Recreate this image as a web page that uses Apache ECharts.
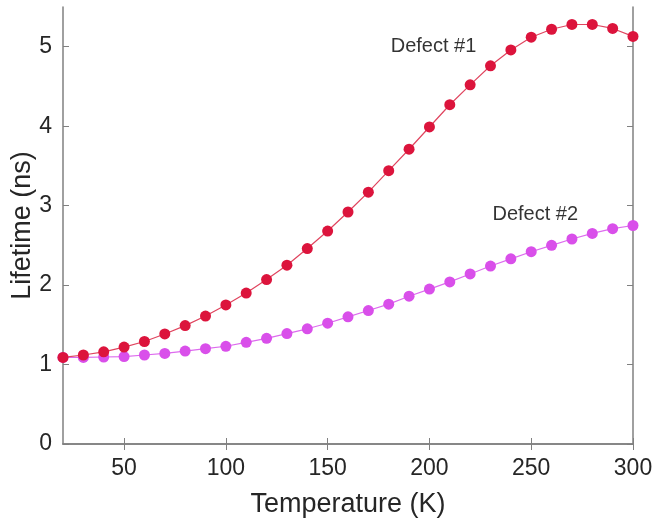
<!DOCTYPE html>
<html>
    <head>
        <meta charset="UTF-8" />
        <title>Lifetime vs Temperature</title>
        <script type="text/javascript" src="https://cdn.jsdelivr.net/npm/echarts@6/dist/echarts.min.js"></script>
    </head>
    <body style="margin:0; width:653px; height:521px; background:#fff;">
        <div id="main" style="width:653px; height:521px;"></div>
    </body>
    <script>
        // temperatures (K) and lifetimes (ns)
        var temps = [20, 30, 40, 50, 60, 70, 80, 90, 100, 110, 120, 130, 140, 150, 160,
                     170, 180, 190, 200, 210, 220, 230, 240, 250, 260, 270, 280, 290, 300];
        var defect1 = [1.09, 1.12, 1.16, 1.22, 1.29, 1.385, 1.49, 1.61, 1.75, 1.90, 2.07, 2.25, 2.46, 2.68, 2.92,
                       3.17, 3.44, 3.71, 3.99, 4.27, 4.52, 4.76, 4.96, 5.12, 5.22, 5.28, 5.28, 5.23, 5.13];
        var defect2 = [1.09, 1.09, 1.095, 1.10, 1.12, 1.14, 1.17, 1.20, 1.23, 1.28, 1.33, 1.39, 1.45, 1.52, 1.60,
                       1.68, 1.76, 1.86, 1.95, 2.04, 2.14, 2.24, 2.33, 2.42, 2.50, 2.58, 2.65, 2.71, 2.75];
        var xTicks = [50, 100, 150, 200, 250, 300];
        var yTicks = [0, 1, 2, 3, 4, 5];
        var labels = [
            {text: 'Defect #1', x: 202, y: 5.0},
            {text: 'Defect #2', x: 252, y: 2.89}
        ];

        function pairs(ys) {
            var out = [];
            for (var i = 0; i < temps.length; i++) out.push([temps[i], ys[i]]);
            return out;
        }

        var axisGray = '#808080';
        var textCol = '#262626';
        var font = 'Arial, "Liberation Sans", sans-serif';

        var myChart = echarts.init(document.getElementById('main'), null, {renderer: 'canvas'});

        function xAxisOf(pos, showLabels) {
            return {
                type: 'value', min: 20, max: 300, position: pos,
                name: showLabels ? 'Temperature (K)' : '', nameLocation: 'middle', nameGap: 47,
                nameMoveOverlap: false,
                nameTextStyle: {fontSize: 27, color: textCol, fontFamily: font},
                axisLine: {show: true, lineStyle: {color: axisGray, width: 1.5}},
                axisTick: {show: true, inside: true, length: 6, customValues: xTicks,
                    lineStyle: {color: axisGray}},
                axisLabel: {show: showLabels, fontSize: 23, color: textCol, fontFamily: font,
                    margin: 13, customValues: xTicks},
                splitLine: {show: false}
            };
        }
        function yAxisOf(pos, showLabels) {
            return {
                type: 'value', min: 0, max: 5.5, position: pos,
                name: showLabels ? 'Lifetime (ns)' : '', nameLocation: 'middle', nameGap: 27,
                nameMoveOverlap: false,
                nameTextStyle: {fontSize: 27, color: textCol, fontFamily: font},
                axisLine: {show: true, lineStyle: {color: axisGray, width: 1.5}},
                axisTick: {show: true, inside: true, length: 6, customValues: yTicks,
                    lineStyle: {color: axisGray}},
                axisLabel: {show: showLabels, fontSize: 23, color: textCol, fontFamily: font,
                    margin: 11, customValues: yTicks},
                splitLine: {show: false}
            };
        }

        var option = {
            animation: false,
            grid: {left: 63, right: 20, top: 7, bottom: 77, containLabel: false, outerBoundsMode: 'none'},
            xAxis: [xAxisOf('bottom', true), xAxisOf('top', false)],
            yAxis: [yAxisOf('left', true), yAxisOf('right', false)],
            series: [{
                name: 'Defect #1', type: 'line', data: pairs(defect1),
                symbol: 'circle', symbolSize: 11,
                itemStyle: {color: '#DC143C'},
                lineStyle: {color: '#E0455F', width: 1.2},
                z: 3
            }, {
                name: 'Defect #2', type: 'line', data: pairs(defect2),
                symbol: 'circle', symbolSize: 11,
                itemStyle: {color: '#D94FEA'},
                lineStyle: {color: '#DD6BEE', width: 1.2},
                z: 2
            }, {
                type: 'scatter', symbolSize: 0, silent: true,
                data: labels.map(function (l) { return {value: [l.x, l.y], name: l.text}; }),
                label: {show: true, position: 'inside', formatter: '{b}',
                    fontSize: 20, color: '#000', fontFamily: font}
            }]
        };

        myChart.setOption(option);
    </script>
</html>
